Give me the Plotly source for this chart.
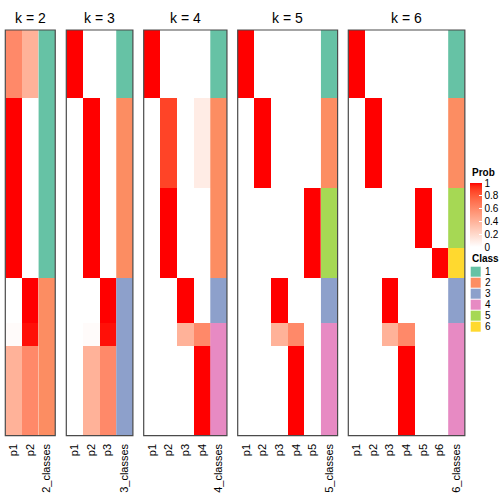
import numpy as np
import plotly.graph_objects as go

# ---------------- data ----------------
block_sizes = [9, 12, 8, 4, 6, 3, 12]   # rows per block (top to bottom)

probs_k2 = [[0.60, 0.40], [1, 0], [1, 0], [1, 0], [0, 1], [0.02, 0.98], [0.40, 0.60]]
class_k2 = [1, 1, 1, 1, 2, 2, 2]

probs_k3 = [[1, 0, 0], [0, 1, 0], [0, 1, 0], [0, 1, 0], [0, 0, 1], [0, 0.02, 0.98], [0, 0.40, 0.60]]
class_k3 = [1, 2, 2, 2, 3, 3, 3]

probs_k4 = [[1, 0, 0, 0], [0, 0.88, 0, 0.10], [0, 1, 0, 0], [0, 1, 0, 0], [0, 0, 1, 0],
            [0, 0, 0.40, 0.60], [0, 0, 0, 1]]
class_k4 = [1, 2, 2, 2, 3, 4, 4]

probs_k5 = [[1, 0, 0, 0, 0], [0, 1, 0, 0, 0], [0, 0, 0, 0, 1], [0, 0, 0, 0, 1], [0, 0, 1, 0, 0],
            [0, 0, 0.40, 0.60, 0], [0, 0, 0, 1, 0]]
class_k5 = [1, 2, 5, 5, 3, 4, 4]

probs_k6 = [[1, 0, 0, 0, 0, 0], [0, 1, 0, 0, 0, 0], [0, 0, 0, 0, 1, 0], [0, 0, 0, 0, 0, 1],
            [0, 0, 1, 0, 0, 0], [0, 0, 0.40, 0.60, 0, 0], [0, 0, 0, 1, 0, 0]]
class_k6 = [1, 2, 5, 6, 3, 4, 4]

ks = [2, 3, 4, 5, 6]
probs_all = [probs_k2, probs_k3, probs_k4, probs_k5, probs_k6]
classes_all = [class_k2, class_k3, class_k4, class_k5, class_k6]

class_labels = ["1", "2", "3", "4", "5", "6"]
class_colors = ["#66C2A5", "#FC8D62", "#8DA0CB", "#E78AC3", "#A6D854", "#FFD92F"]
prob_ticks = [0, 0.2, 0.4, 0.6, 0.8, 1]

# ---------------- colour helpers (LAB interpolation white -> red) ----------------
def _lin(c):
    c = c / 255.0
    return np.where(c <= 0.04045, c / 12.92, ((c + 0.055) / 1.055) ** 2.4)

def _delin(c):
    c = np.where(c <= 0.0031308, 12.92 * c, 1.055 * np.power(np.clip(c, 0, None), 1 / 2.4) - 0.055)
    return np.clip(np.round(c * 255), 0, 255)

M = np.array([[0.4124, 0.3576, 0.1805], [0.2126, 0.7152, 0.0722], [0.0193, 0.1192, 0.9505]])
Minv = np.linalg.inv(M)
WH = np.array([0.95047, 1.0, 1.08883])

def rgb2lab(rgb):
    xyz = M @ _lin(np.array(rgb, float)) / WH
    f = np.where(xyz > (6 / 29) ** 3, np.cbrt(xyz), xyz / (3 * (6 / 29) ** 2) + 4 / 29)
    return np.array([116 * f[1] - 16, 500 * (f[0] - f[1]), 200 * (f[1] - f[2])])

def lab2rgb(lab):
    L, a, b = lab
    fy = (L + 16) / 116
    fx = fy + a / 500
    fz = fy - b / 200
    f = np.array([fx, fy, fz])
    xyz = np.where(f > 6 / 29, f ** 3, 3 * (6 / 29) ** 2 * (f - 4 / 29)) * WH
    return _delin(Minv @ xyz)

w_lab = rgb2lab([255, 255, 255])
r_lab = rgb2lab([255, 0, 0])
prob_scale = []
for t in np.linspace(0, 1, 21):
    c = lab2rgb(w_lab + (r_lab - w_lab) * t)
    prob_scale.append([float(t), "rgb(%d,%d,%d)" % tuple(int(v) for v in c)])

class_scale = []
for i, col in enumerate(class_colors):
    class_scale.append([i / 6, col])
    class_scale.append([(i + 1) / 6, col])

# ---------------- figure ----------------
W = H = 504
panel_left = [5.3, 66.3, 143.7, 237.7, 348.3]
col_w = 16.65
top_px, bot_px = 30.0, 435.7
FONT = "Liberation Sans, Arial, Helvetica, sans-serif"

fig = go.Figure()
n_rows = sum(block_sizes)
layout_upd = {}
shapes = []
annotations = []

for i, (k, pr, cl) in enumerate(zip(ks, probs_all, classes_all)):
    z_p = np.repeat(np.array(pr, float), block_sizes, axis=0)
    z_c = np.repeat(np.array(cl, float), block_sizes)[:, None]
    ax = "" if i == 0 else str(i + 1)
    rows = list(range(n_rows))
    fig.add_trace(go.Heatmap(z=z_p, x=list(range(k)), y=rows, coloraxis="coloraxis",
                             xaxis="x" + ax, yaxis="y" + ax, hoverinfo="skip"))
    fig.add_trace(go.Heatmap(z=z_c, x=[k], y=rows, colorscale=class_scale, zmin=0.5, zmax=6.5,
                             showscale=False, xaxis="x" + ax, yaxis="y" + ax, hoverinfo="skip"))
    x0 = panel_left[i]
    x1 = x0 + col_w * (k + 1)
    layout_upd["xaxis" + ax] = dict(
        domain=[x0 / W, x1 / W], range=[-0.5, k + 0.5],
        tickvals=list(range(k + 1)),
        ticktext=["p%d" % (j + 1) for j in range(k)] + ["%d_classes" % k],
        tickangle=-90, ticks="", showgrid=False, zeroline=False, showline=False,
        tickfont=dict(size=11, family=FONT, color="black"), ticklabelstandoff=5,
        anchor="y" + ax, fixedrange=True, automargin=False)
    layout_upd["yaxis" + ax] = dict(
        domain=[(H - bot_px) / H, (H - top_px) / H], range=[n_rows - 0.5, -0.5],
        showticklabels=False, ticks="", showgrid=False, zeroline=False, showline=False,
        anchor="x" + ax, fixedrange=True, automargin=False)
    shapes.append(dict(type="rect", xref="paper", yref="paper",
                       x0=x0 / W, x1=x1 / W, y0=(H - bot_px) / H, y1=(H - top_px) / H,
                       line=dict(color="#4a4a4a", width=1.2), fillcolor="rgba(0,0,0,0)"))
    annotations.append(dict(text="k = %d" % k, xref="paper", yref="paper",
                            x=(x0 + x1) / 2 / W, y=(H - 18.3) / H, showarrow=False,
                            xanchor="center", yanchor="middle",
                            font=dict(size=14, family=FONT, color="black")))

# legend titles
annotations.append(dict(text="<b>Prob</b>", xref="paper", yref="paper", x=469.5 / W, y=(H - 172.5) / H,
                        showarrow=False, xanchor="left", yanchor="middle",
                        font=dict(size=10, family=FONT, color="black")))
annotations.append(dict(text="<b>Class</b>", xref="paper", yref="paper", x=469.5 / W, y=(H - 258.3) / H,
                        showarrow=False, xanchor="left", yanchor="middle",
                        font=dict(size=10, family=FONT, color="black")))
for j, (lab, col) in enumerate(zip(class_labels, class_colors)):
    y0 = 266.7 + j * 11.0
    shapes.append(dict(type="rect", xref="paper", yref="paper",
                       x0=470.7 / W, x1=480.7 / W, y0=(H - y0 - 10) / H, y1=(H - y0) / H,
                       line=dict(width=0), fillcolor=col))
    annotations.append(dict(text=lab, xref="paper", yref="paper", x=483 / W, y=(H - y0 - 5) / H,
                            showarrow=False, xanchor="left", yanchor="middle",
                            font=dict(size=10, family=FONT, color="black")))

fig.update_layout(
    width=W, height=H, margin=dict(l=0, r=0, t=0, b=0, autoexpand=False),
    paper_bgcolor="white", plot_bgcolor="white", showlegend=False,
    shapes=shapes, annotations=annotations,
    coloraxis=dict(
        colorscale=prob_scale, cmin=0, cmax=1,
        colorbar=dict(
            x=470 / W, xanchor="left", xref="paper", y=(H - 247) / H, yanchor="bottom",
            len=64.3 / H, lenmode="fraction", thickness=12, thicknessmode="pixels",
            xpad=0, ypad=0, outlinewidth=0,
            tickvals=prob_ticks, ticktext=["0", "0.2", "0.4", "0.6", "0.8", "1"],
            ticks="inside", ticklen=3, tickcolor="white",
            tickfont=dict(size=10, family=FONT, color="black"))),
    **layout_upd)

fig.write_html("out.html", config={"displayModeBar": False},
               post_script="document.body.style.margin='0';document.body.style.padding='0';")
